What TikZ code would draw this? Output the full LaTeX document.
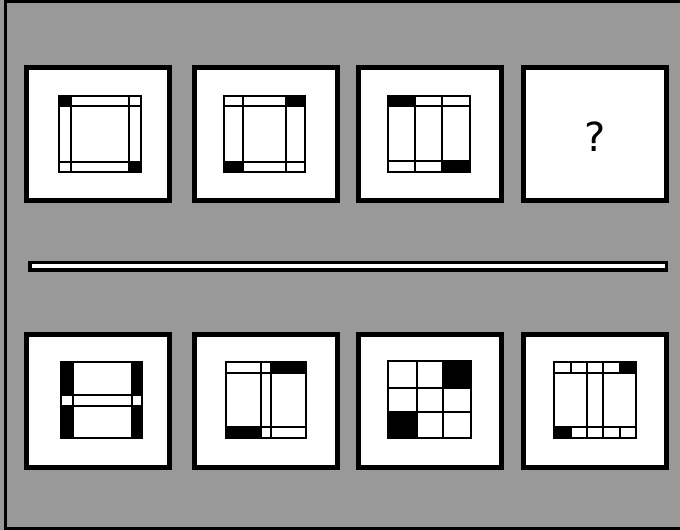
\documentclass[tikz,border=0pt]{standalone}
\usepackage{fontspec}
\setsansfont{DejaVu Sans}
\usepackage{tikz}
\definecolor{scan}{gray}{0.6}

\begin{document}
\begin{tikzpicture}[x=1pt, y=-1pt,
  panel/.style={draw, line width=5pt, fill=white, minimum width=143pt, minimum height=133pt, inner sep=0pt},
  fig/.style={line width=2.1pt},
  bar/.style={line width=3pt}]
  \useasboundingbox (0,0) rectangle (680,530);
  \fill[scan] (0,0) rectangle (680,530);
  \draw[bar] (5,530) -- (5,1.5) -- (680,1.5);
  \draw[bar] (5,528.5) -- (680,528.5);
  % panels, question row and answer row
  \foreach \x/\n in {98/1,266/2,429.5/3,594.5/4} {
    \node[panel] (q\n) at (\x,134) {};
    \node[panel] (a\n) at (\x,401) {};
  }
  \node[font=\sffamily\fontsize{40}{40}\selectfont] (ask) at (595,137) {?};
  % separator
  \fill (28,261) rectangle (668,272);
  \fill[white] (32,264) rectangle (665,268);
  % question 1
  \fill (59,96) rectangle (71,106) (129,162) rectangle (141,172);
  \draw[fig] (59,96) rectangle (141,172) (71,96) -- (71,172) (129,96) -- (129,172)
    (59,106) -- (141,106) (59,162) -- (141,162);
  % question 2
  \fill (286,96) rectangle (305,106) (224,162) rectangle (243,172);
  \draw[fig] (224,96) rectangle (305,172) (243,96) -- (243,172) (286,96) -- (286,172)
    (224,106) -- (305,106) (224,162) -- (305,162);
  % question 3
  \fill (388,96) rectangle (415,106) (442,161) rectangle (470,172);
  \draw[fig] (388,96) rectangle (470,172) (415,96) -- (415,172) (442,96) -- (442,172)
    (388,106) -- (470,106) (388,161) -- (470,161);
  % answer 1
  \fill (61,362) rectangle (73,395) (61,406) rectangle (73,438)
    (132,362) rectangle (142,395) (132,406) rectangle (142,438);
  \draw[fig] (61,362) rectangle (142,438) (73,362) -- (73,438) (132,362) -- (132,438)
    (61,395) -- (142,395) (61,406) -- (142,406);
  % answer 2
  \fill (271,362) rectangle (306,373) (226,427) rectangle (261,438);
  \draw[fig] (226,362) rectangle (306,438) (261,362) -- (261,438) (271,362) -- (271,438)
    (226,373) -- (306,373) (226,427) -- (306,427);
  % answer 3
  \fill (443,361) rectangle (471,388) (388,412) rectangle (417,438);
  \draw[fig] (388,361) rectangle (471,438) (417,361) -- (417,438) (443,361) -- (443,438)
    (388,388) -- (471,388) (388,412) -- (471,412);
  % answer 4
  \fill (620,362) rectangle (636,373) (554,427) rectangle (571,438);
  \draw[fig] (554,362) rectangle (636,438) (587,362) -- (587,438) (603,362) -- (603,438)
    (554,373) -- (636,373) (554,427) -- (636,427);
  \foreach \x in {571,620}
    \draw[fig] (\x,362) -- (\x,373) (\x,427) -- (\x,438);
\end{tikzpicture}
\end{document}
